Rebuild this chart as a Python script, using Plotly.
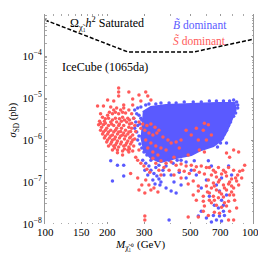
import math
import plotly.graph_objects as go

# ---- data ----
relic_mass = [100, 250, 520, 1000]
relic_sigma = [7.2e-4, 1.25e-4, 1.25e-4, 2.5e-4]

x_tick_vals = [100, 150, 200, 300, 500, 700, 1000]
x_tick_text = ["100", "150", "200", "300", "500", "700", "1000"]
y_tick_vals = [1e-8, 1e-7, 1e-6, 1e-5, 1e-4, 1e-3]
y_tick_text = ["10<sup>−8</sup>", "10<sup>−7</sup>", "10<sup>−6</sup>", "10<sup>−5</sup>", "10<sup>−4</sup>", "0.001"]

# dense core of the bino-dominant cloud (outline)
blue_core_mass = [295, 323, 382, 505, 667, 816, 825, 789, 746, 706, 645, 564, 505, 427, 361, 323, 299, 289]
blue_core_sigma = [4.6e-6, 6.1e-6, 6.8e-6, 7.2e-6, 7.6e-6, 7.6e-6, 5.2e-6, 3.0e-6, 1.6e-6, 1.0e-6, 7.2e-7, 5.8e-7, 4.4e-7, 3.7e-7, 3.0e-7, 3.7e-7, 5.8e-7, 1.32e-6]

blue_mass = [
    279, 289, 305, 316, 341, 361, 395, 427, 467, 516, 564, 617, 667, 721, 772, 807, 834, 844, 844, 825,
    807, 780, 763, 746, 729, 714, 746, 698, 675,
    270, 276, 267, 273, 279, 270, 276, 283, 279, 286, 292, 299, 309, 283, 292, 286, 295, 289, 302, 305, 299,
    295, 305, 316, 323, 334, 345, 353, 361, 312, 330, 341, 353, 369, 382, 302, 323, 349, 373, 357, 338,
    207, 223, 239, 211, 239,
    395, 413, 432, 451, 477, 522, 610, 631, 763, 789, 706, 404, 427, 451, 564, 617, 690, 706, 721, 721,
    667, 395, 564, 546, 690, 597, 631, 645, 746, 667, 597, 505, 534, 477, 442, 404, 652, 682, 729, 706,
    382, 417,
]
blue_sigma = [
    5.8e-6, 6.1e-6, 6.8e-6, 7.2e-6, 7.2e-6, 7.6e-6, 7.6e-6, 7.6e-6, 8.0e-6, 8.0e-6, 8.0e-6, 8.5e-6, 8.5e-6, 8.5e-6, 8.5e-6, 9.0e-6, 8.0e-6, 6.8e-6, 5.8e-6, 4.4e-6,
    3.7e-6, 2.7e-6, 2.2e-6, 1.7e-6, 1.39e-6, 1.12e-6, 8.5e-7, 8.5e-7, 6.8e-7,
    5.2e-6, 4.2e-6, 3.3e-6, 2.7e-6, 2.2e-6, 1.9e-6, 1.55e-6, 1.25e-6, 1.0e-6, 8.0e-7, 6.45e-7, 5.2e-7, 4.4e-7, 3.9e-6, 3.0e-6, 2.4e-6, 1.9e-6, 3.3e-6, 4.4e-6, 2.7e-6, 1.06e-6,
    3.3e-7, 2.8e-7, 2.4e-7, 1.9e-7, 1.6e-7, 1.39e-7, 1.18e-7, 1.0e-7, 1.47e-7, 1.12e-7, 2.2e-7, 2.5e-7, 1.9e-7, 2.4e-7, 1.9e-7, 3.3e-7, 3.3e-7, 1.47e-7, 8.5e-8, 9.0e-8,
    3.2e-7, 2.5e-7, 2.5e-7, 1.06e-7, 1.39e-7,
    3.3e-7, 2.8e-7, 3.3e-7, 3.3e-7, 3.0e-7, 3.2e-7, 3.2e-7, 2.4e-7, 2.4e-7, 1.47e-7, 1.25e-7, 6.1e-8, 5.5e-8, 8.5e-8, 7.2e-8, 4.6e-8, 6.1e-8, 3.7e-8, 2.8e-8, 2.0e-8,
    1.25e-8, 1.25e-8, 2.0e-8, 1.55e-8, 1.55e-8, 1.39e-8, 1.12e-8, 1.6e-8, 4.9e-8, 8.5e-8, 1.12e-7, 1.9e-7, 1.47e-7, 1.25e-7, 1.7e-7, 1.47e-7, 2.8e-8, 2.4e-8, 1.6e-8, 1.18e-8,
    7.2e-8, 1.0e-7,
]

red_mass = [
    226, 253, 283, 226, 264, 200, 214, 239, 264, 312, 323, 305, 289, 226,
    179, 191, 207, 221, 214, 253, 231, 244, 200, 211, 226, 261, 189, 202, 218, 236, 250, 267, 183, 193,
    207, 221, 233, 247, 261, 181, 191, 202, 214, 226, 239, 253, 270, 185, 195, 207, 218, 231, 244, 258,
    273, 189, 200, 211, 223, 236, 250, 264, 193, 204, 216, 228, 241, 255, 270, 198, 209, 221, 233, 247,
    261, 202, 214, 226, 239, 253, 267, 211, 223, 236, 250, 264, 223, 253, 273, 236, 283,
    185, 195, 209, 228, 255, 187, 198, 221, 233, 261, 191, 202, 214, 226, 239, 253, 195, 207, 218, 231,
    244, 258, 200, 211, 223, 250, 264, 207, 218, 231, 244, 258, 216, 241, 255, 195, 211, 228, 241, 255,
    204, 218, 236, 185, 239,
    283, 295, 309, 323, 338, 353, 302, 316, 330, 345, 289, 305, 323, 341, 361, 312, 330, 349,
    369, 390, 404, 427, 451, 546, 597, 584, 610, 577, 552, 584, 488, 417, 746, 807, 853, 772, 477, 505,
    442, 382, 631, 534,
    279, 289, 299, 309, 319, 279, 258, 283, 302, 323, 341, 330, 353, 361, 305, 292, 316, 334, 349, 302,
    302,
    361, 382, 404, 427, 451, 477, 505, 534, 564, 597, 373, 395, 417, 442, 467, 494, 522, 552, 584, 451,
    516, 488, 546, 546, 577, 577, 584, 577, 610, 516, 534,
    617, 645, 682, 721, 763, 807, 863, 882, 631, 667, 706, 746, 789, 834, 853, 610, 645, 682, 721, 763,
    807, 631, 667, 706, 746, 789, 807, 604, 645, 682, 721, 763, 631, 667, 706, 746, 772, 834, 652, 690,
    807, 912, 892, 844, 597, 617, 488, 546, 763,
    660, 738, 690, 772, 652, 729, 617, 690, 772, 652, 729, 816, 789, 825,
]
red_sigma = [
    1.39e-5, 1.39e-5, 1.18e-5, 1.12e-5, 9.5e-6, 9.0e-6, 8.5e-6, 6.8e-6, 6.8e-6, 1.12e-5, 9.0e-6, 1.39e-5, 8.5e-6, 1.73e-5,
    6.45e-6, 6.45e-6, 6.1e-6, 5.8e-6, 5.2e-6, 5.2e-6, 5.2e-6, 4.4e-6, 3.9e-6, 4.2e-6, 4.2e-6, 4.2e-6, 3.5e-6, 3.3e-6, 3.3e-6, 3.5e-6, 3.3e-6, 3.3e-6, 2.8e-6, 2.8e-6,
    2.7e-6, 2.7e-6, 2.8e-6, 2.7e-6, 2.5e-6, 2.3e-6, 2.3e-6, 2.2e-6, 2.2e-6, 2.2e-6, 2.2e-6, 2.0e-6, 2.2e-6, 1.7e-6, 1.7e-6, 1.7e-6, 1.7e-6, 1.6e-6, 1.7e-6, 1.6e-6,
    1.6e-6, 1.39e-6, 1.39e-6, 1.32e-6, 1.39e-6, 1.32e-6, 1.39e-6, 1.32e-6, 1.12e-6, 1.12e-6, 1.06e-6, 1.12e-6, 1.06e-6, 1.12e-6, 1.06e-6, 9.0e-7, 9.0e-7, 8.5e-7, 9.0e-7, 8.5e-7,
    9.0e-7, 7.2e-7, 7.2e-7, 6.8e-7, 7.2e-7, 6.8e-7, 7.2e-7, 5.8e-7, 5.8e-7, 5.5e-7, 5.8e-7, 5.5e-7, 5.0e-7, 5.2e-7, 3.9e-7, 4.4e-7, 5.8e-7,
    2.5e-6, 2.5e-6, 2.4e-6, 2.4e-6, 2.4e-6, 2.0e-6, 1.9e-6, 1.9e-6, 1.9e-6, 1.9e-6, 1.55e-6, 1.55e-6, 1.55e-6, 1.55e-6, 1.47e-6, 1.55e-6, 1.25e-6, 1.25e-6, 1.18e-6, 1.25e-6,
    1.25e-6, 1.18e-6, 1.0e-6, 1.0e-6, 9.5e-7, 9.5e-7, 1.0e-6, 8.0e-7, 7.6e-7, 8.0e-7, 7.6e-7, 8.0e-7, 6.45e-7, 6.1e-7, 6.1e-7, 3.2e-6, 3.0e-6, 3.2e-6, 3.0e-6, 3.0e-6,
    4.6e-6, 4.6e-6, 4.6e-6, 4.2e-6, 5.8e-6,
    2.7e-6, 2.4e-6, 2.2e-6, 2.4e-6, 2.0e-6, 1.7e-6, 1.7e-6, 1.47e-6, 1.32e-6, 1.47e-6, 1.9e-6, 1.0e-6, 8.5e-7, 7.2e-7, 6.45e-7, 6.45e-7, 5.2e-7, 4.4e-7,
    1.18e-6, 1.0e-6, 8.5e-7, 9.0e-7, 1.0e-6, 1.0e-6, 1.0e-6, 2.5e-6, 2.3e-6, 1.7e-6, 5.8e-7, 5.2e-7, 4.4e-7, 3.9e-7, 4.9e-7, 5.8e-7, 5.2e-7, 3.9e-7, 1.7e-6, 1.32e-6,
    6.45e-7, 5.8e-7, 1.32e-6, 1.9e-6,
    3.3e-7, 2.8e-7, 2.4e-7, 2.0e-7, 1.7e-7, 1.25e-7, 1.6e-7, 6.45e-8, 5.5e-8, 6.45e-8, 2.8e-7, 3.7e-7, 1.9e-7, 1.47e-7, 1.12e-7, 8.5e-8, 8.5e-8, 7.2e-8, 5.8e-8, 1.55e-8,
    1.25e-8,
    3.2e-7, 2.8e-7, 3.0e-7, 2.5e-7, 2.7e-7, 2.4e-7, 2.5e-7, 2.3e-7, 2.4e-7, 2.2e-7, 2.2e-7, 1.9e-7, 1.47e-7, 1.9e-7, 1.8e-7, 1.6e-7, 1.9e-7, 1.7e-7, 1.55e-7, 1.25e-7,
    1.06e-7, 9.0e-8, 8.0e-8, 6.1e-8, 4.6e-8, 3.5e-8, 2.7e-8, 2.0e-8, 1.6e-8, 4.9e-8, 3.7e-8,
    2.2e-7, 1.9e-7, 2.2e-7, 1.9e-7, 2.2e-7, 1.9e-7, 1.8e-7, 1.25e-7, 1.47e-7, 1.32e-7, 1.55e-7, 1.39e-7, 1.18e-7, 1.06e-7, 8.5e-8, 1.12e-7, 9.5e-8, 1.0e-7, 8.5e-8, 9.0e-8,
    7.2e-8, 7.2e-8, 6.45e-8, 5.2e-8, 6.45e-8, 5.8e-8, 4.9e-8, 5.8e-8, 4.6e-8, 4.2e-8, 4.4e-8, 3.5e-8, 3.2e-8, 2.8e-8, 2.5e-8, 2.7e-8, 2.0e-8, 2.4e-8, 1.9e-8, 1.8e-8,
    1.25e-8, 2.5e-7, 1.9e-7, 1.47e-7, 8.0e-8, 3.7e-8, 1.47e-8, 1.47e-8, 1.25e-8,
    1.7e-7, 1.7e-7, 1.12e-7, 1.0e-7, 8.0e-8, 7.2e-8, 5.5e-8, 5.8e-8, 4.9e-8, 3.7e-8, 3.2e-8, 3.7e-8, 8.0e-8, 1.25e-7,
]

BLUE = "#5a5aff"
RED = "#ff5a5a"
FONT = "Liberation Serif"

fig = go.Figure()
fig.add_trace(go.Scatter(x=blue_core_mass, y=blue_core_sigma, mode="lines", fill="toself",
                         fillcolor=BLUE, line=dict(color=BLUE, width=2), hoverinfo="skip"))
fig.add_trace(go.Scatter(x=blue_mass, y=blue_sigma, mode="markers",
                         marker=dict(color=BLUE, size=3.5, line=dict(width=0))))
fig.add_trace(go.Scatter(x=red_mass, y=red_sigma, mode="markers",
                         marker=dict(color=RED, size=3.5, line=dict(width=0))))
fig.add_trace(go.Scatter(x=relic_mass, y=relic_sigma, mode="lines",
                         line=dict(color="black", width=1.5, dash="4px,2px")))

ann_font = dict(family=FONT, size=12, color="black")
common = dict(xref="paper", yref="paper", showarrow=False, xanchor="center", yanchor="middle")
fig.add_annotation(x=0.30, y=0.955, text="Ω<sub>χ̃₁</sub><i>h</i><sup>2</sup> Saturated", font=ann_font, **common)
fig.add_annotation(x=0.29, y=0.748, text="IceCube (1065da)", font=ann_font, **common)
fig.add_annotation(x=0.745, y=0.948, text="<i>B̃</i> dominant",
                   font=dict(family=FONT, size=11.5, color=BLUE), **common)
fig.add_annotation(x=0.745, y=0.876, text="<i>S̃</i> dominant",
                   font=dict(family=FONT, size=11.5, color=RED), **common)

# x tick labels (placed just under the frame, as in the reference)
for v, t in zip(x_tick_vals, x_tick_text):
    fig.add_annotation(x=math.log10(v), y=-0.036, xref="x", yref="paper", text=t, showarrow=False,
                       xanchor="center", yanchor="middle", font=dict(family=FONT, size=11, color="black"))

# axis titles
fig.add_annotation(x=0.457, y=-0.10, text="<i>M</i><sub>χ̃₁⁰</sub> (GeV)", font=dict(family=FONT, size=11),
                   **common)
fig.add_annotation(x=-0.152, y=0.495, text="<i>σ</i><sub>SD</sub> (pb)", textangle=-90,
                   font=dict(family=FONT, size=10.5), **common)

# minor tick positions on the frame
y_minor = [m * 10.0 ** e for e in range(-8, -3) for m in range(2, 10)]
x_minor = [110, 120, 130, 140, 160, 170, 180, 190, 400, 600, 800, 900]

# the page adds an 8px body margin, so the figure is shifted accordingly
fig.update_layout(
    width=258, height=248,
    margin=dict(l=37, r=13, t=6, b=32, autoexpand=False),
    paper_bgcolor="white", plot_bgcolor="white",
    showlegend=False,
    font=dict(family=FONT, size=11, color="black"),
)
fig.update_xaxes(type="log", range=[2, 3], tickvals=x_tick_vals, showticklabels=False,
                 showgrid=False, zeroline=False, showline=False, automargin=False,
                 ticks="inside", ticklen=2, tickcolor="#999", mirror="ticks",
                 minor=dict(tickvals=x_minor, ticks="inside", ticklen=1.5, tickcolor="#aaa", showgrid=False))
fig.update_yaxes(type="log", range=[-8, -3], tickvals=y_tick_vals, ticktext=y_tick_text,
                 showgrid=False, zeroline=False, showline=True, linecolor="#999", linewidth=1,
                 automargin=False,
                 ticks="inside", ticklen=2, tickcolor="#999", mirror="ticks",
                 minor=dict(tickvals=y_minor, ticks="inside", ticklen=1.5, tickcolor="#aaa", showgrid=False),
                 tickfont=dict(family=FONT, size=11))

fig.write_html("out.html")
